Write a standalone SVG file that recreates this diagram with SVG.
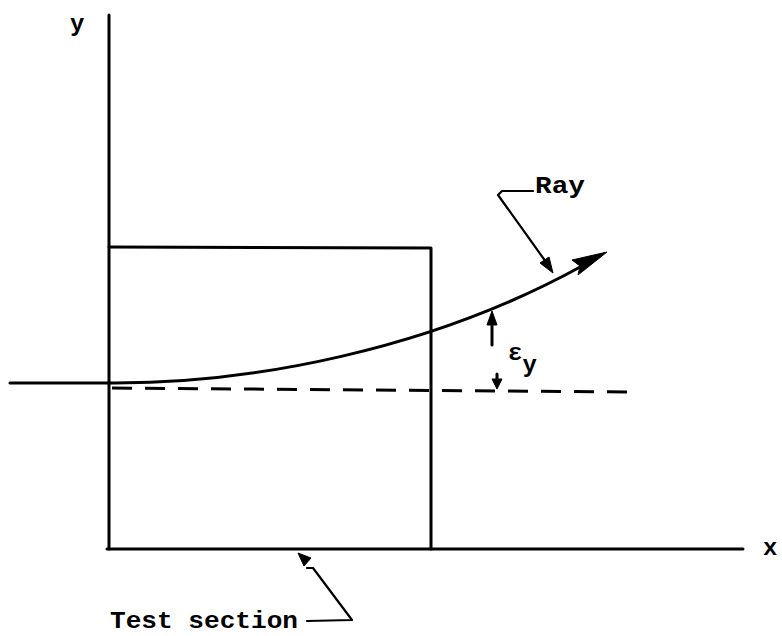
<svg xmlns="http://www.w3.org/2000/svg" width="782" height="636" viewBox="0 0 782 636">
<style>
.ln{fill:none;stroke:#000;stroke-width:3;stroke-linecap:round;stroke-linejoin:round}
.thin{fill:none;stroke:#000;stroke-width:2.2;stroke-linecap:round;stroke-linejoin:round}
.dash{fill:none;stroke:#000;stroke-width:3;stroke-dasharray:20 13}
.hd{fill:#000;stroke:#000;stroke-width:1;stroke-linejoin:round}
.t{font-family:"Liberation Mono","Courier New",monospace;font-size:24px;font-weight:bold;fill:#000}
</style>
<rect width="782" height="636" fill="#fff"/>
<g id="axes">
<line class="ln" x1="109" y1="15" x2="109" y2="549"/>
<line class="ln" x1="107" y1="549" x2="743" y2="549"/>
<text class="t" x="70" y="31">y</text>
<text class="t" x="763" y="555">x</text>
</g>
<g id="test-section">
<path class="ln" d="M109,247 L431,248 L431,549"/>
</g>
<g id="reference-line">
<line class="ln" x1="10" y1="383" x2="109" y2="383"/>
<line class="dash" x1="112" y1="388" x2="638" y2="392"/>
</g>
<g id="ray">
<path class="ln" d="M109,383 C250,384 430,350 582,266"/>
<polygon class="hd" points="607,252 578,275 580,266 572,260"/>
</g>
<g id="deflection">
<line class="ln" x1="492" y1="345" x2="492" y2="322"/>
<polygon class="hd" points="492,311 487,325 497,325"/>
<line class="ln" x1="497" y1="374" x2="497" y2="381"/>
<polygon class="hd" points="497,389 492,379 502,379"/>
<text class="t" x="508" y="360" font-size="27">ε<tspan font-size="24" dy="12">y</tspan></text>
</g>
<g id="labels">
<text class="t" x="535" y="193" textLength="50" lengthAdjust="spacingAndGlyphs">Ray</text>
<text class="t" x="110" y="628" textLength="188" lengthAdjust="spacingAndGlyphs">Test section</text>
</g>
<g id="connectors">
<path class="thin" d="M533,191 L502,191 L498,195 L546,262"/>
<polygon class="hd" points="553,273 540,263 549,257"/>
<path class="thin" d="M307,568 L313,568 L352,620 L307,621"/>
<polygon class="hd" points="298,553 311,558 304,566"/>
</g>
</svg>
